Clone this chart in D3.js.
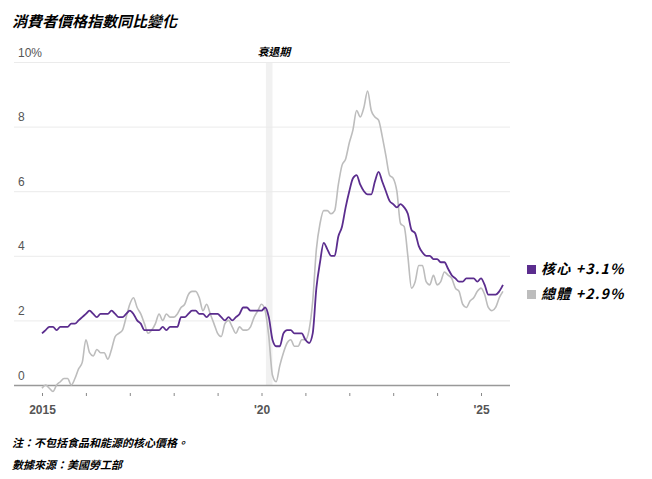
<!DOCTYPE html>
<html><head><meta charset="utf-8">
<script src="https://cdn.jsdelivr.net/npm/d3@7"></script>
<style>
body{margin:0;background:#fff;font-family:"Noto Sans CJK TC","Noto Sans",sans-serif;}
</style></head><body><div id="chart"></div>
<script>
const width = 652, height = 479;
const margin = ({top: 62, right: 142, bottom: 94, left: 14});

// monthly, Jan 2015 – Jul 2025
const startYear = 2015;
const core = [
 1.6,1.7,1.8,1.8,1.7,1.8,1.8,1.8,1.9,1.9,2.0,2.1,
 2.2,2.3,2.2,2.1,2.2,2.2,2.2,2.3,2.2,2.1,2.1,2.2,
 2.3,2.2,2.0,1.9,1.7,1.7,1.7,1.7,1.7,1.8,1.7,1.8,
 1.8,1.8,2.1,2.1,2.2,2.3,2.3,2.2,2.2,2.1,2.2,2.2,
 2.2,2.1,2.0,2.1,2.0,2.1,2.2,2.4,2.4,2.3,2.3,2.3,
 2.3,2.4,2.1,1.4,1.2,1.2,1.6,1.7,1.7,1.6,1.6,1.6,
 1.4,1.3,1.6,3.0,3.8,4.4,4.2,4.0,4.0,4.6,4.9,5.5,
 6.0,6.4,6.5,6.2,6.0,5.9,5.9,6.3,6.6,6.3,6.0,5.7,
 5.6,5.5,5.6,5.5,5.3,4.8,4.7,4.3,4.1,4.0,4.0,3.9,
 3.9,3.8,3.8,3.6,3.4,3.3,3.2,3.2,3.3,3.3,3.3,3.2,
 3.3,3.1,2.8,2.8,2.8,2.9,3.1
];
const headline = [
 -0.1,0.0,-0.1,-0.2,0.0,0.1,0.2,0.2,0.0,0.2,0.5,0.7,
 1.4,1.0,0.9,1.1,1.0,1.0,0.8,1.1,1.5,1.6,1.7,2.1,
 2.5,2.7,2.4,2.2,1.9,1.6,1.7,1.9,2.2,2.0,2.2,2.1,
 2.1,2.2,2.4,2.5,2.8,2.9,2.9,2.7,2.3,2.5,2.2,1.9,
 1.6,1.5,1.9,2.0,1.8,1.6,1.8,1.7,1.7,1.8,2.1,2.3,
 2.5,2.3,1.5,0.3,0.1,0.6,1.0,1.3,1.4,1.2,1.2,1.4,
 1.4,1.7,2.6,4.2,5.0,5.4,5.4,5.3,5.4,6.2,6.8,7.0,
 7.5,7.9,8.5,8.3,8.6,9.1,8.5,8.3,8.2,7.7,7.1,6.5,
 6.4,6.0,5.0,4.9,4.0,3.0,3.2,3.7,3.7,3.2,3.1,3.4,
 3.1,3.2,3.5,3.4,3.3,3.0,2.9,2.5,2.4,2.6,2.7,2.9,
 3.0,2.8,2.4,2.3,2.4,2.7,2.9
];
const yTicks = [0, 2, 4, 6, 8, 10];
const yearTicks = [2015,2016,2017,2018,2019,2020,2021,2022,2023,2024,2025];
const yearLabels = {2015: "2015", 2020: "'20", 2025: "'25"};
const recession = [2020.1, 2020.25];
const legend = [
  {name: "核心", value: "+3.1%", color: "#5b2d8e"},
  {name: "總體", value: "+2.9%", color: "#bdbdbd"}
];

const x = d3.scaleLinear().domain([2015, 2025]).range([42, 481]);
const y = d3.scaleLinear().domain([0, 10]).range([385, 62]);
const xEnd = x.invert(width - margin.right);
const t = i => startYear + i / 12;

const svg = d3.select("#chart").append("svg")
  .attr("width", width).attr("height", height);

svg.append("text").attr("x", 12).attr("y", 27)
  .attr("font-size", 15).attr("font-weight", "bold").attr("font-style", "italic")
  .text("消費者價格指數同比變化");

// recession band
svg.append("rect")
  .attr("x", x(recession[0])).attr("width", x(recession[1]) - x(recession[0]))
  .attr("y", 62).attr("height", y(0) - 62)
  .attr("fill", "#f1f1f1");
svg.append("text").attr("x", x(recession[0]) + 8).attr("y", 56)
  .attr("text-anchor", "middle").attr("font-size", 11).attr("font-weight", "bold")
  .attr("font-style", "italic").text("衰退期");

// grid + y labels
const yAxis = g => g
  .attr("transform", `translate(${margin.left},0)`)
  .call(d3.axisRight(y).tickValues(yTicks).tickSize(x(xEnd) - margin.left)
    .tickFormat(d => d === 10 ? "10%" : d))
  .call(g => g.select(".domain").remove())
  .call(g => g.selectAll(".tick line").attr("stroke", d => d === 0 ? "#999" : "#ebebeb")
    .attr("stroke-width", d => d === 0 ? 1.5 : 1))
  .call(g => g.selectAll(".tick text").attr("x", 4).attr("dy", -6)
    .attr("fill", "#555").attr("font-size", 12).attr("font-family", "Arial, Liberation Sans, sans-serif"));
svg.append("g").call(yAxis);

// x axis: small ticks and labels
const xAxis = g => g
  .attr("transform", `translate(0,${y(0) + 8})`)
  .call(d3.axisBottom(x).tickValues(yearTicks).tickSize(3).tickPadding(9)
    .tickFormat(d => yearLabels[d] || ""))
  .call(g => g.select(".domain").remove())
  .call(g => g.selectAll(".tick line").attr("stroke", "#888"))
  .call(g => g.selectAll(".tick text").attr("fill", "#555").attr("font-size", 12)
    .attr("font-weight", "bold").attr("font-family", "Arial, Liberation Sans, sans-serif"));
svg.append("g").call(xAxis);

const line = d3.line().x((d, i) => x(t(i))).y(d => y(d)).curve(d3.curveMonotoneX);

svg.append("path").datum(headline).attr("fill", "none")
  .attr("stroke", "#bdbdbd").attr("stroke-width", 1.6).attr("d", line);
svg.append("path").datum(core).attr("fill", "none")
  .attr("stroke", "#5b2d8e").attr("stroke-width", 1.8).attr("d", line);

// legend
const lg = svg.append("g").selectAll("g").data(legend).join("g")
  .attr("transform", (d, i) => `translate(527,${274 + i * 25})`);
lg.append("rect").attr("y", -9).attr("width", 9).attr("height", 9).attr("fill", d => d.color);
lg.append("text").attr("x", 14).attr("font-size", 14).attr("font-weight", "bold")
  .attr("font-style", "italic").attr("letter-spacing", 1.2)
  .text(d => `${d.name} ${d.value}`);

// notes
svg.append("text").attr("x", 12).attr("y", 447).attr("font-size", 11)
  .attr("font-weight", "bold").attr("font-style", "italic")
  .text("注：不包括食品和能源的核心價格。");
svg.append("text").attr("x", 12).attr("y", 469).attr("font-size", 11)
  .attr("font-weight", "bold").attr("font-style", "italic")
  .text("數據來源：美國勞工部");
</script></body></html>
